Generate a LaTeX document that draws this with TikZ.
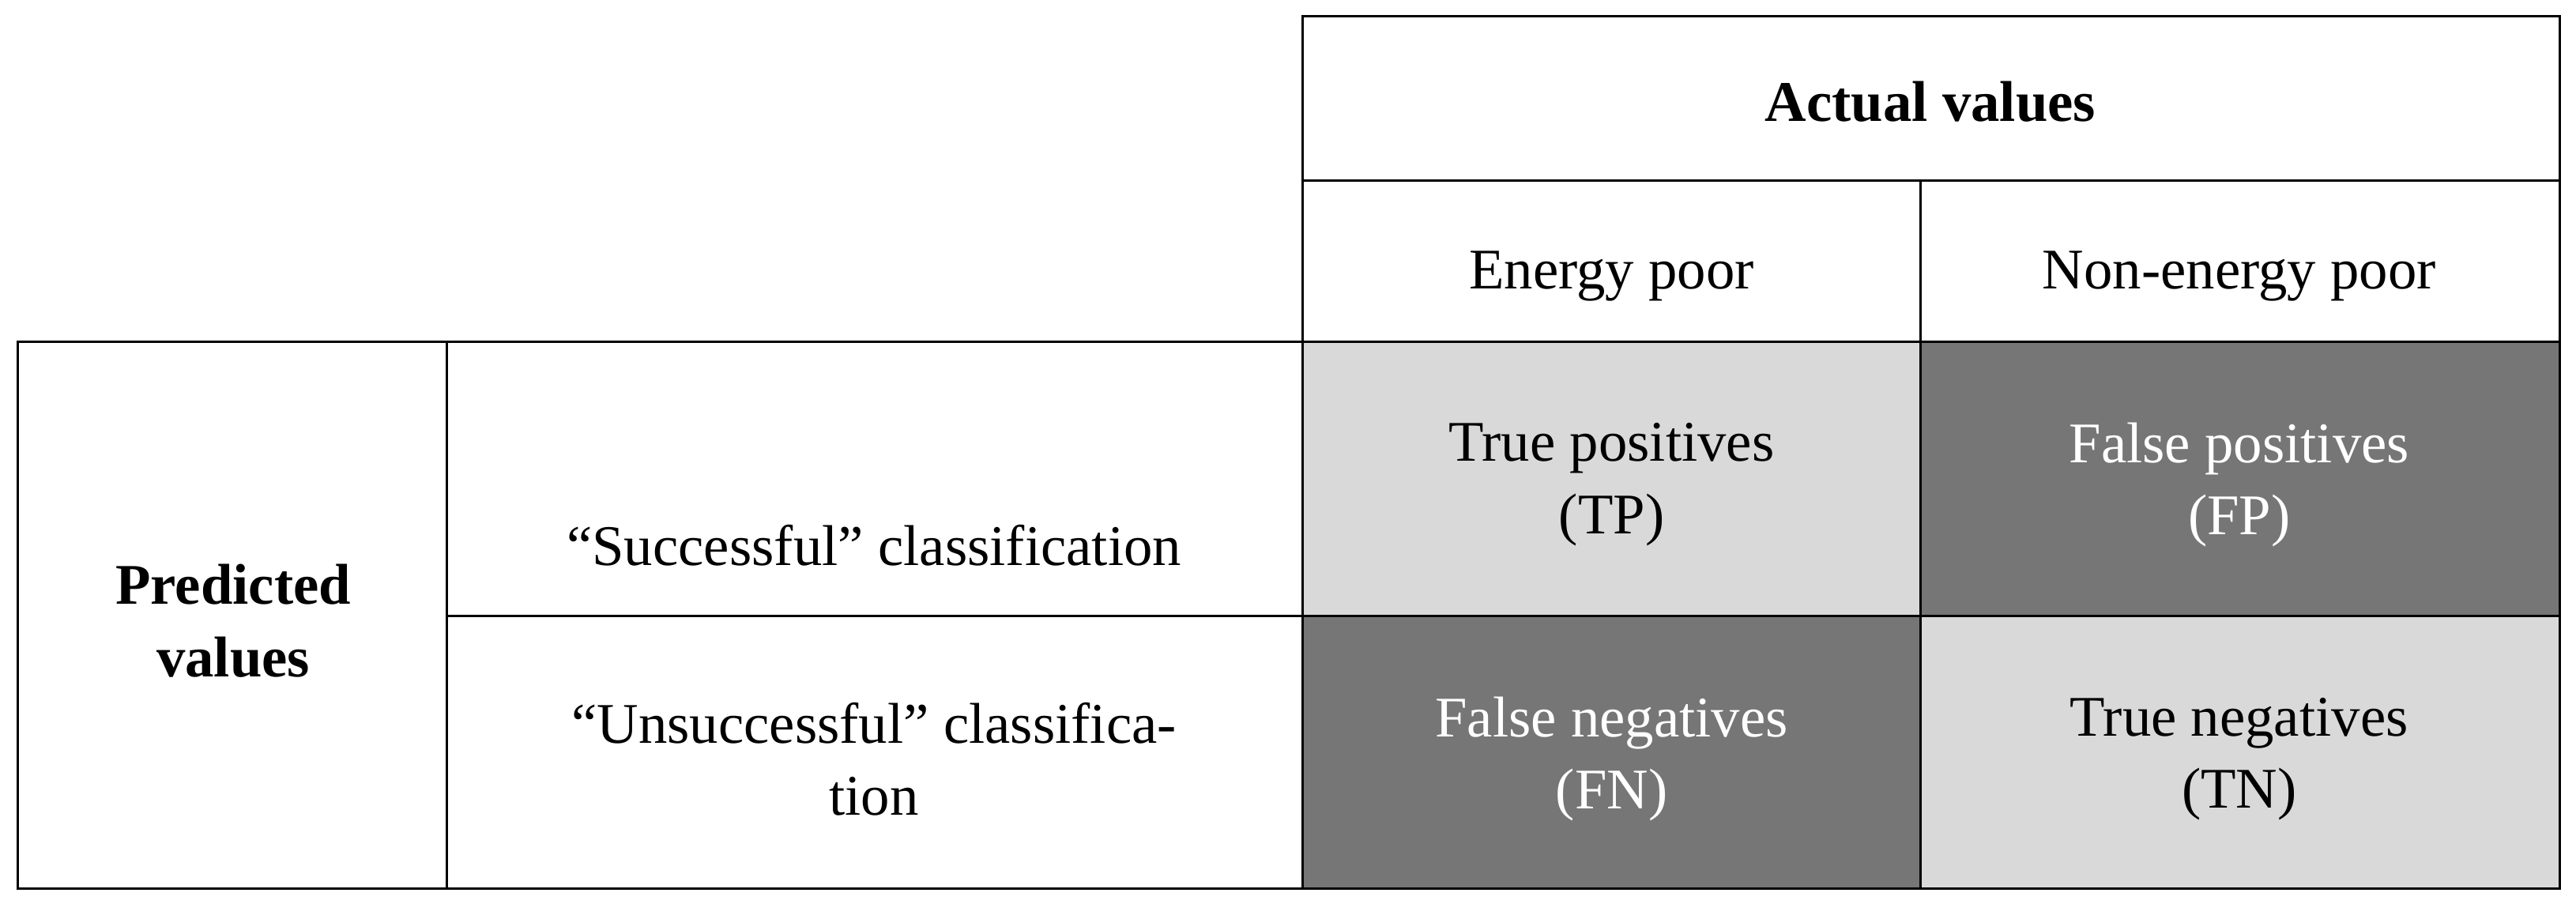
\documentclass[tikz,border=0pt]{standalone}
\usepackage{fontspec}
\setmainfont{Liberation Serif}
\definecolor{lightg}{HTML}{D9D9D9}
\definecolor{darkg}{HTML}{767676}
\begin{document}
\begin{tikzpicture}[x=1pt,y=-1pt,
  cell/.style={draw=black,line width=1.5pt},
  txt/.style={font=\fontsize{35}{44}\selectfont,align=center},
  btxt/.style={font=\fontsize{35}{44}\selectfont\bfseries,align=center}]
\useasboundingbox (0,0) rectangle (1568,550);
\fill[lightg] (793,208) rectangle (1169,375);
\fill[darkg] (1169,208) rectangle (1558,375);
\fill[darkg] (793,375) rectangle (1169,541);
\fill[lightg] (1169,375) rectangle (1558,541);
\draw[cell] (793,10) rectangle (1558,208);
\draw[cell] (793,110) -- (1558,110);
\draw[cell] (1169,110) -- (1169,541);
\draw[cell] (11,208) rectangle (1558,541);
\draw[cell] (272,208) -- (272,541);
\draw[cell] (793,208) -- (793,541);
\draw[cell] (272,375) -- (1558,375);
\node[btxt] (av) at (1175,62) {Actual values};
\node[txt] (ep) at (981,168) {Energy poor};
\node[txt] (nep) at (1363,168) {Non-energy poor};
\node[btxt] (pv) at (142,378) {Predicted\\values};
\node[txt] (sc) at (532,332) {``Successful'' classification};
\node[txt] (uc) at (532,462) {``Unsuccessful'' classifica-\\tion};
\node[txt] (tp) at (981,295) {True positives\\(TP)};
\node[txt,white] (fp) at (1363,295) {False positives\\(FP)};
\node[txt,white] (fn) at (981,462) {False negatives\\(FN)};
\node[txt] (tn) at (1363,462) {True negatives\\(TN)};
\end{tikzpicture}
\end{document}
